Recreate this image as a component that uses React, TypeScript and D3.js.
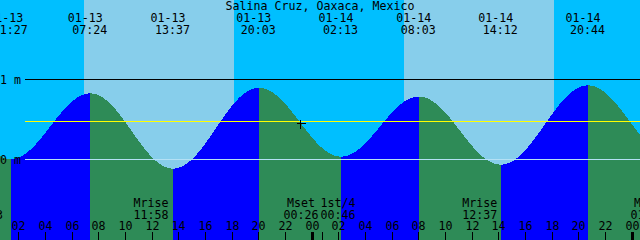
import React from "react";
import * as d3 from "d3";

const W = 640;
const H = 240;

const title = "Salina Cruz, Oaxaca, Mexico";

// tide extremes (MM-DD HH:MM) and heights in metres
const tideTimes = [
  "01-12 19:25",
  "01-13 01:27",
  "01-13 07:24",
  "01-13 13:37",
  "01-13 20:03",
  "01-14 02:13",
  "01-14 08:03",
  "01-14 14:12",
  "01-14 20:44",
  "01-15 02:55",
];
const tideHeights = [0.86, 0.0, 0.82, -0.12, 0.89, 0.03, 0.78, -0.07, 0.92, 0.04];

// sunrise / sunset
const sunTimes = ["01-13 06:54", "01-13 18:09", "01-14 06:54", "01-14 18:09"];

// moon events
const moonNames = ["Mset", "Mrise", "Mset", "1st/4", "Mrise", "Mset"];
const moonTimes = [
  "01-12 23:33",
  "01-13 11:58",
  "01-14 00:26",
  "01-14 00:46",
  "01-14 12:37",
  "01-15 01:14",
];

const hourTickHours = [0, 2, 4, 6, 8, 10, 12, 14, 16, 18, 20, 22];
const datumLevels = [0, 1];
const datumLabels = ["0 m", "1 m"];
const meanLevel = 0.48;
const markerTime = "01-13 23:10";

const COLORS = {
  night: "#00BFFF",
  day: "#87CEEB",
  flood: "#0000FF",
  ebb: "#2E8B57",
  datum: "#B4E1F5",
  mean: "#FFFF00",
  text: "#000000",
};

const FONT = "'DejaVu Sans Mono', monospace";
const FS = 11.63;
const CW = 7;

const toHours = (s: string) => {
  const d = +s.slice(3, 5);
  const h = +s.slice(6, 8);
  const m = +s.slice(9, 11);
  return (d - 13) * 24 + h + m / 60;
};

const x = d3.scaleLinear().domain([0.6375, 48.6375]).range([0, W]);
const y = d3.scaleLinear().domain([0, 1]).range([159, 79]);

const T = tideTimes.map(toHours);

function level(t: number) {
  let i = 0;
  while (i < T.length - 2 && t > T[i + 1]) i++;
  const f = (t - T[i]) / (T[i + 1] - T[i]);
  const a = tideHeights[i];
  const b = tideHeights[i + 1];
  return a + ((b - a) * (1 - Math.cos(Math.PI * f))) / 2;
}

export default function App() {
  const [t0, t1] = x.domain();
  const step = 1 / 40;

  // sky
  const bounds = [t0, ...sunTimes.map(toHours), t1];
  const sky = bounds.slice(0, -1).map((b, i) => ({
    a: b,
    b: bounds[i + 1],
    day: i % 2 === 1,
  }));

  // water
  const area = d3
    .area<number>()
    .x((t) => x(t))
    .y0(H)
    .y1((t) => y(level(t)));

  const water: { d: string; color: string }[] = [];
  for (let i = 0; i < T.length - 1; i++) {
    const a = Math.max(T[i], t0);
    const b = Math.min(T[i + 1], t1);
    if (b <= a) continue;
    const pts = d3.range(a, b, step).concat([b]);
    water.push({
      d: area(pts) || "",
      color: tideHeights[i + 1] > tideHeights[i] ? COLORS.flood : COLORS.ebb,
    });
  }

  // moon label positions with overlap avoidance
  const boxW = 5 * CW;
  const moon = moonTimes
    .map((s, i) => ({ t: toHours(s), name: moonNames[i], time: s.slice(6) }))
    .sort((p, q) => p.t - q.t)
    .map((m) => ({ ...m, cx: x(m.t) }));
  for (let i = 0; i < moon.length - 1; i++) {
    if (moon[i + 1].cx - moon[i].cx < boxW + 2) {
      const mid = (moon[i].cx + moon[i + 1].cx) / 2;
      moon[i].cx = mid - 1 - boxW / 2;
      moon[i + 1].cx = mid + 1 + boxW / 2;
    }
  }

  const hourTicks: number[] = [];
  for (let d = 0; d < 3; d++)
    for (const h of hourTickHours) {
      const t = d * 24 + h;
      if (t >= t0 - 1 && t <= t1 + 1) hourTicks.push(t);
    }

  const mt = toHours(markerTime);
  const mx = Math.round(x(mt)) + 0.5;
  const my = Math.round(y(level(mt))) + 0.5;

  const textProps = {
    fontFamily: FONT,
    fontSize: FS,
    fill: COLORS.text,
  };

  const meanY = Math.round(y(meanLevel));

  return (
    <svg
      width={W}
      height={H}
      style={{ position: "absolute", left: 0, top: 0, display: "block" }}
    >
      {sky.map((s, i) => (
        <rect
          key={"sky" + i}
          x={x(s.a)}
          y={0}
          width={x(s.b) - x(s.a)}
          height={H}
          fill={s.day ? COLORS.day : COLORS.night}
          shapeRendering="crispEdges"
        />
      ))}
      {water.map((w, i) => (
        <path key={"w" + i} d={w.d} fill={w.color} shapeRendering="crispEdges" />
      ))}

      {/* datum lines */}
      {datumLevels.map((lv, i) => (
        <g key={"dl" + i}>
          <rect
            x={25}
            width={W - 25}
            y={Math.round(y(lv))}
            height={1}
            fill={lv === 0 ? COLORS.datum : "#000"}
            shapeRendering="crispEdges"
          />
          <text x={0} y={y(lv) + 4.5} {...textProps}>
            {datumLabels[i]}
          </text>
        </g>
      ))}
      <rect
        x={25}
        width={W - 25}
        y={meanY}
        height={1}
        fill={COLORS.mean}
        shapeRendering="crispEdges"
      />

      {/* title */}
      <text x={W / 2} y={9.5} textAnchor="middle" {...textProps}>
        {title}
      </text>

      {/* tide event labels */}
      {tideTimes.map((s, i) => {
        const cx = x(T[i]) - 0.5;
        return (
          <g key={"te" + i}>
            <text x={cx - 4.5} y={21.5} textAnchor="middle" {...textProps}>
              {s.slice(0, 5)}
            </text>
            <text x={cx} y={33.5} textAnchor="middle" {...textProps}>
              {s.slice(6)}
            </text>
          </g>
        );
      })}

      {/* moon labels */}
      {moon.map((m, i) => (
        <g key={"m" + i}>
          <text x={m.cx} y={206.5} textAnchor="middle" {...textProps}>
            {m.name}
          </text>
          <text x={m.cx} y={218.5} textAnchor="middle" {...textProps}>
            {m.time}
          </text>
          {m.name.includes("/") && (
            <line
              x1={Math.round(x(m.t)) + 0.5}
              x2={Math.round(x(m.t)) + 0.5}
              y1={232}
              y2={H}
              stroke="#000"
              shapeRendering="crispEdges"
            />
          )}
        </g>
      ))}

      {/* hour axis */}
      {hourTicks.map((t) => {
        const px = Math.round(x(t)) + 0.5;
        const h = ((t % 24) + 24) % 24;
        return (
          <g key={"h" + t}>
            <text x={px} y={230} textAnchor="middle" {...textProps}>
              {d3.format("02d")(h)}
            </text>
            <line
              x1={px}
              x2={px}
              y1={232}
              y2={H}
              stroke="#000"
              strokeWidth={h === 0 ? 3 : 1}
              shapeRendering="crispEdges"
            />
          </g>
        );
      })}

      {/* current marker */}
      <line x1={mx - 4} x2={mx + 5} y1={my} y2={my} stroke="#000" shapeRendering="crispEdges" />
      <line x1={mx} x2={mx} y1={my - 4} y2={my + 5} stroke="#000" shapeRendering="crispEdges" />
    </svg>
  );
}
